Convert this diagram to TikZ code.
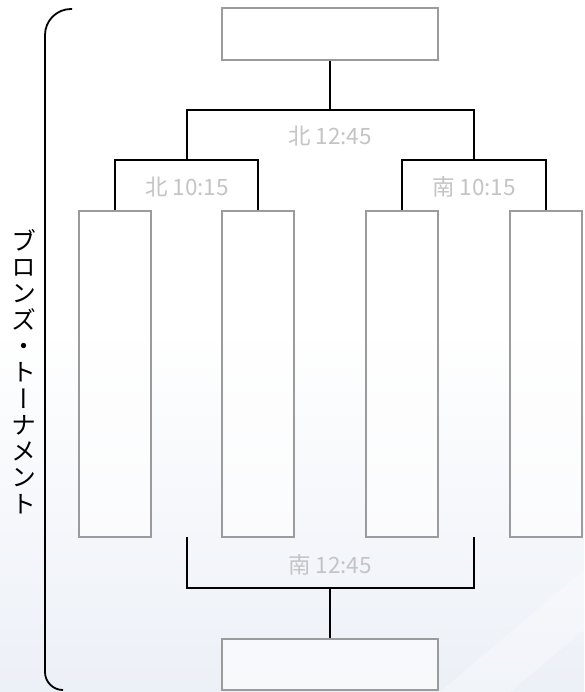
\documentclass[tikz,border=0pt]{standalone}
\usepackage{fontspec}
\newfontfamily\cjk{Noto Sans CJK JP}
\newfontfamily\cjkv[RawFeature=+vert]{Noto Sans CJK JP}
\definecolor{boxgray}{RGB}{155,155,155}
\definecolor{labelgray}{RGB}{196,196,196}
\definecolor{bgblue}{RGB}{236,240,247}
\begin{document}
\begin{tikzpicture}[x=1pt,y=-1pt,
  slot/.style={draw=boxgray,line width=1.5pt,fill=white,fill opacity=0.6,text opacity=1,inner sep=0pt},
  wide/.style={slot,minimum width=216pt,minimum height=52pt},
  tall/.style={slot,minimum width=72pt,minimum height=326pt},
  link/.style={draw=black,line width=2pt},
  time/.style={font=\cjk\fontsize{22.5}{24}\selectfont,text=labelgray,inner sep=0pt}]
\useasboundingbox (0,0) rectangle (584,692);
% background
\shade[top color=white,bottom color=bgblue] (0,330) rectangle (584,692);
\fill[white] (0,0) rectangle (584,330);
\fill[white,opacity=0.3] (440,692) -- (584,570) -- (584,630) -- (510,692) -- cycle;
% boxes
\node[wide] (top) at (330,34) {};
\node[wide,minimum height=51pt] (bot) at (330,664.5) {};
\node[tall] (b1) at (115,374) {};
\node[tall] (b2) at (258,374) {};
\node[tall] (b3) at (402,374) {};
\node[tall] (b4) at (546,374) {};
% junctions
\coordinate (hub) at (330,110);
\coordinate (qN) at (187,160);
\coordinate (qS) at (473.5,160);
\coordinate (sL) at (187,537);
\coordinate (sR) at (473.5,537);
\coordinate (hub2) at (330,588);
% connectors
\draw[link] (top.south) -- (hub);
\draw[link] (qN) |- (hub) -| (qS);
\draw[link] (b1.north) |- (qN) -| (b2.north);
\draw[link] (b3.north) |- (qS) -| (b4.north);
\draw[link] (sL) |- (hub2) -| (sR);
\draw[link] (hub2) -- (bot.north);
% labels
\node[time] (lN2) at (330,136) {北 12:45};
\node[time] (lN1) at (187,187) {北 10:15};
\node[time] (lS1) at (474,187) {南 10:15};
\node[time] (lS2) at (330,565) {南 12:45};
% big bracket
\coordinate (brT) at (72,9);
\coordinate (brB) at (63,690);
\draw[link,line width=1.8pt] (brT) [rounded corners=26pt] -- (45,9) [rounded corners=18pt] -- (45,690) -- (brB);
% vertical title
\node[font=\cjkv\fontsize{25}{26.3}\selectfont,align=center,inner sep=0pt,anchor=north] (title) at (24,229)
  {ブ\\ロ\\ン\\ズ\\・\\ト\\ー\\ナ\\メ\\ン\\ト};
\end{tikzpicture}
\end{document}
